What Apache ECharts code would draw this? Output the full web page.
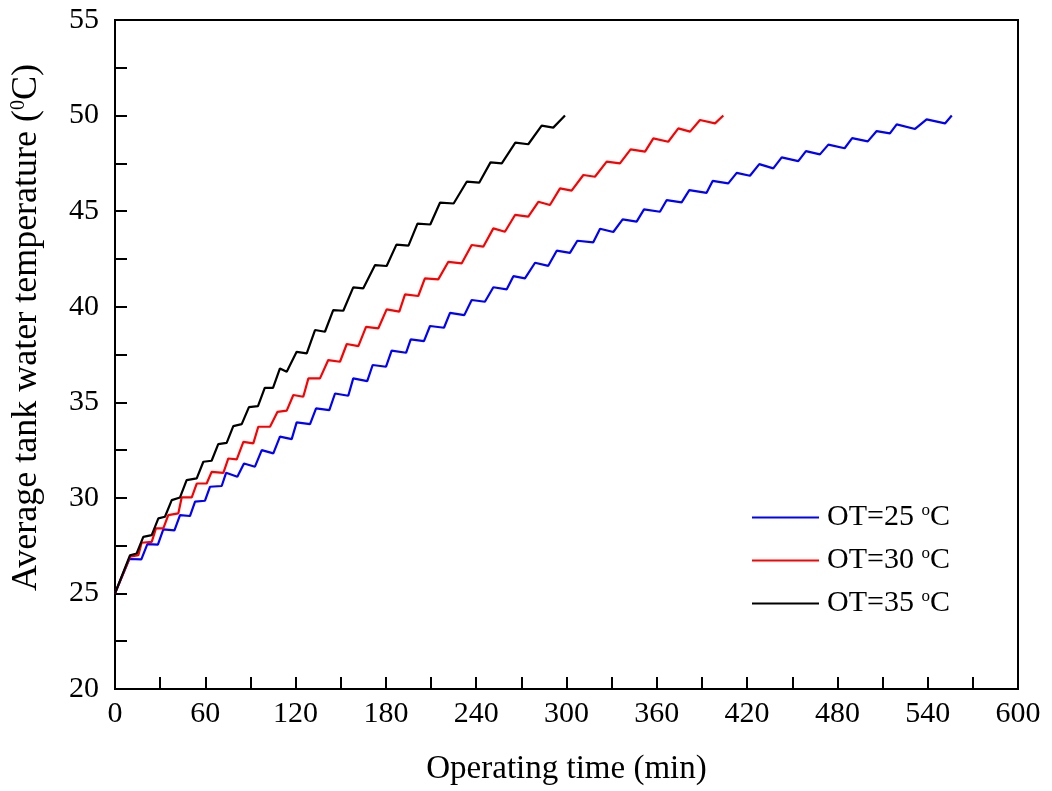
<!DOCTYPE html>
<html>
<head>
<meta charset="utf-8">
<script src="https://cdn.jsdelivr.net/npm/echarts@6/dist/echarts.min.js"></script>
<style>html,body{margin:0;padding:0;background:#fff}#c{width:1052px;height:791px}</style>
</head>
<body>
<div id="c"></div>
<script>
// Tick values
const xTicks = [0, 60, 120, 180, 240, 300, 360, 420, 480, 540, 600];
const yTicks = [20, 25, 30, 35, 40, 45, 50, 55];
const seriesNames = ['OT=25 °C', 'OT=30 °C', 'OT=35 °C'];

// [time (min), temperature (°C)] vertices
const ot25 = [
  [0,25.0],
  [9.5,26.8],[17.5,26.78],
  [21.5,27.58],[28.5,27.55],
  [32.1,28.35],[39.5,28.3],
  [43.2,29.1],[49.8,29.05],
  [53.2,29.8],[59.8,29.85],
  [63.1,30.58],[70.9,30.62],
  [73.8,31.31],[81.3,31.1],
  [85.7,31.8],[93,31.63],
  [97.5,32.5],[105.2,32.33],
  [109.6,33.2],[117.4,33.07],
  [120.7,33.95],[129.6,33.86],
  [133.6,34.68],[142.4,34.59],
  [146.2,35.46],[155,35.34],
  [158.3,36.25],[167.6,36.11],
  [171.2,36.95],[180.1,36.86],
  [183.8,37.7],[193.4,37.59],
  [196.5,38.29],[205.3,38.2],
  [209.3,38.99],[218.6,38.9],
  [222.6,39.68],[232.1,39.56],
  [237,40.35],[245.8,40.26],
  [251.4,41.02],[260.3,40.91],
  [264.7,41.6],[272.4,41.48],
  [279.1,42.3],[287.9,42.14],
  [293.5,42.93],[302.3,42.82],
  [307.2,43.45],[317.8,43.37],
  [322.3,44.08],[331.1,43.91],
  [337.3,44.57],[346.6,44.45],
  [351.5,45.09],[362.1,44.97],
  [366.6,45.58],[376.5,45.46],
  [381.6,46.1],[393.1,45.96],
  [397.1,46.58],[407.5,46.45],
  [413.1,47.0],[421.9,46.85],
  [428.1,47.46],[437.4,47.24],
  [443,47.81],[454,47.62],
  [459.1,48.14],[468.4,47.97],
  [474,48.48],[484.8,48.29],
  [489.8,48.82],[500.2,48.65],
  [506.1,49.19],[514.9,49.07],
  [519.4,49.54],[531.6,49.3],
  [539.3,49.8],[551.5,49.59],
  [556,50.0]
];
const ot30 = [
  [0,25.0],
  [10,26.92],[15.5,27.0],
  [17.7,27.65],[24.4,27.7],
  [27.2,28.4],[32.1,28.4],
  [35.4,29.1],[42.1,29.19],
  [44.3,30.02],[51,30.02],
  [54.3,30.75],[60.9,30.75],
  [64.2,31.36],[72,31.31],
  [75.3,32.06],[80.9,32.01],
  [85.3,32.93],[91.9,32.85],
  [95.2,33.72],[103,33.72],
  [108,34.5],[114.1,34.56],
  [118.5,35.38],[125.1,35.29],
  [128.5,36.25],[136.2,36.25],
  [141.7,37.21],[149.5,37.12],
  [154,38.05],[161.7,37.94],
  [166.8,38.95],[175,38.87],
  [180.5,39.86],[188.9,39.74],
  [192.7,40.65],[201.5,40.56],
  [205.9,41.48],[214.8,41.43],
  [221.5,42.35],[230.4,42.27],
  [237,43.23],[244.7,43.14],
  [251.4,44.1],[259.1,43.92],
  [265.8,44.8],[274.6,44.71],
  [281.3,45.49],[289,45.32],
  [295.7,46.19],[303.4,46.07],
  [311.2,46.89],[318.9,46.8],
  [326.7,47.59],[335.5,47.5],
  [342.6,48.23],[352.2,48.11],
  [357.7,48.81],[367.6,48.63],
  [374.3,49.33],[382.1,49.16],
  [388.7,49.77],[398.7,49.59],
  [404.2,50.0]
];
const ot35 = [
  [0,25.0],
  [10,27.0],[14.4,27.09],
  [18.8,27.96],[24.4,28.05],
  [28.8,28.93],[33.2,29.01],
  [37.7,29.88],[43.2,30.02],
  [47.6,30.93],[54.3,31.02],
  [58.7,31.89],[64.2,31.94],
  [68.6,32.81],[74.2,32.88],
  [78.6,33.75],[84.2,33.86],
  [89,34.75],[95,34.8],
  [99.5,35.75],[105,35.75],
  [109.6,36.77],[114.1,36.6],
  [120.7,37.64],[127.4,37.56],
  [132.9,38.78],[139.5,38.69],
  [145,39.82],[151.7,39.79],
  [158.3,41.01],[165,40.96],
  [172.8,42.18],[180.5,42.13],
  [187,43.25],[195,43.2],
  [201,44.35],[209.5,44.3],
  [216,45.45],[225,45.4],
  [233.7,46.54],[242,46.49],
  [249.5,47.55],[257,47.5],
  [266,48.58],[274.6,48.5],
  [283.5,49.47],[291.2,49.37],
  [299,50.0]
];

const FONT = '"Liberation Serif", "Times New Roman", serif';
const chart = echarts.init(document.getElementById('c'), null, {renderer: 'canvas'});
const mkSeries = (name, data, color) => ({
  name, type: 'line', data, symbol: 'none', showSymbol: false,
  lineStyle: {color, width: 2.2}, itemStyle: {color}, animation: false
});
chart.setOption({
  animation: false,
  backgroundColor: '#fff',
  grid: {left: 115, right: 34, top: 20, bottom: 102, show: true, borderColor: '#000', borderWidth: 2,
    containLabel: false, outerBoundsMode: 'none'},
  legend: {
    orient: 'vertical', left: 747, top: 497, itemWidth: 67, itemHeight: 2, itemGap: 12,
    icon: 'rect',
    data: seriesNames,
    formatter: n => n.replace(' °C', ' {sup|o}C'),
    textStyle: {fontFamily: FONT, fontSize: 30, color: '#000', lineHeight: 31, padding: [0,0,0,3],
      rich: {sup: {fontFamily: FONT, fontSize: 17, verticalAlign: 'top', lineHeight: 17, color: '#000'}}}
  },
  xAxis: {
    type: 'value', min: 0, max: 600, interval: 60,
    name: 'Operating time (min)', nameLocation: 'middle', nameGap: 64,
    nameTextStyle: {fontFamily: FONT, fontSize: 33, color: '#000'},
    axisLine: {show: true, lineStyle: {color: '#000', width: 2}},
    axisTick: {show: true, inside: true, length: 12, lineStyle: {color: '#000', width: 2}},
    minorTick: {show: true, splitNumber: 2, length: 12, lineStyle: {color: '#000', width: 2}},
    axisLabel: {fontFamily: FONT, fontSize: 30, color: '#000', margin: 10,
      formatter: v => xTicks.includes(v) ? String(v) : ''},
    splitLine: {show: false}, minorSplitLine: {show: false}
  },
  yAxis: {
    type: 'value', min: 20, max: 55, interval: 5,
    name: 'Average tank water temperature ({sup|0}C)', nameLocation: 'middle', nameGap: 70,
    nameTextStyle: {fontFamily: FONT, fontSize: 36, color: '#000', padding: [0, 0, 0, 54],
      rich: {sup: {fontFamily: FONT, fontSize: 20, verticalAlign: 'top', lineHeight: 20, color: '#000'}}},
    axisLine: {show: true, lineStyle: {color: '#000', width: 2}},
    axisTick: {show: true, inside: true, length: 12, lineStyle: {color: '#000', width: 2}},
    minorTick: {show: true, splitNumber: 2, length: 12, lineStyle: {color: '#000', width: 2}},
    axisLabel: {fontFamily: FONT, fontSize: 30, color: '#000', margin: 16,
      formatter: v => yTicks.includes(v) ? String(v) : ''},
    splitLine: {show: false}, minorSplitLine: {show: false}
  },
  series: [
    mkSeries(seriesNames[0], ot25, '#0000ff'),
    mkSeries(seriesNames[1], ot30, '#ff0000'),
    mkSeries(seriesNames[2], ot35, '#000000')
  ]
});
</script>
</body>
</html>
